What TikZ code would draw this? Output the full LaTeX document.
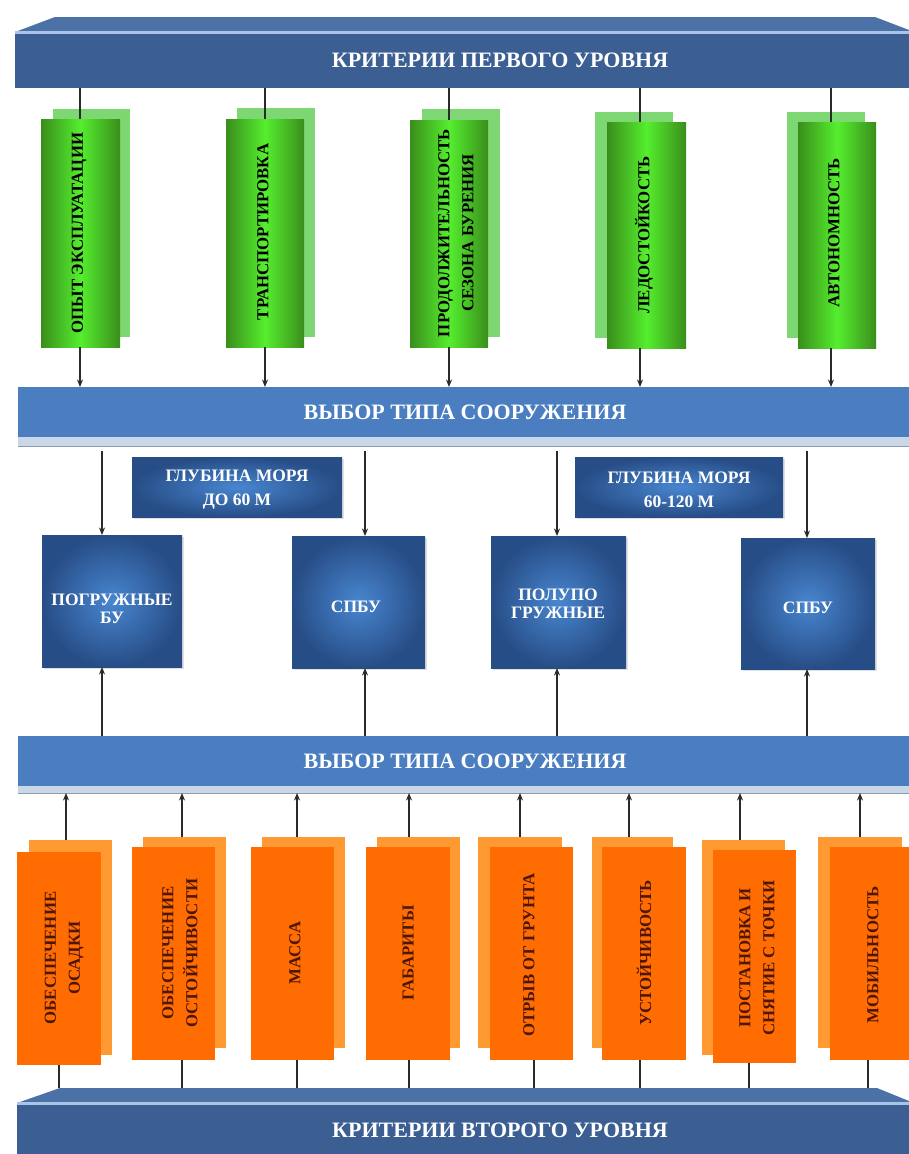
\documentclass[tikz,border=0pt]{standalone}
\usepackage{fontspec}
\setmainfont{Liberation Serif}
\usetikzlibrary{arrows.meta,fit,shadows}
\definecolor{barface}{HTML}{3B5E93}
\definecolor{barbevel}{HTML}{4C71A7}
\definecolor{barline}{HTML}{A8C4E6}
\definecolor{midbar}{HTML}{4A7EC0}
\definecolor{midstrip}{HTML}{CAD7E6}
\definecolor{midline}{HTML}{8E9BAA}
\definecolor{gdark}{HTML}{3A8E1C}
\definecolor{gbright}{HTML}{55EE2E}
\definecolor{gbackc}{HTML}{7DD874}
\definecolor{ofrontc}{HTML}{FF6C02}
\definecolor{obackc}{HTML}{FF9A32}
\definecolor{otextc}{HTML}{4E1606}
\definecolor{bdark}{HTML}{274D86}
\definecolor{blight}{HTML}{4886D0}
\definecolor{arrc}{HTML}{2A2A2A}
\begin{document}
\begin{tikzpicture}[x=1pt,y=-1pt,
  box/.style={inner sep=0pt, outer sep=0pt, draw=none},
  gback/.style={box, fill=gbackc},
  gfront/.style={box, left color=gdark, right color=gdark, middle color=gbright},
  oback/.style={box, fill=obackc},
  ofront/.style={box, fill=ofrontc},
  bbox/.style={box, inner color=blight, outer color=bdark,
    drop shadow={shadow xshift=2pt, shadow yshift=-2pt, fill=black!35, opacity=0.35}},
  vtext/.style={rotate=90, align=center, inner sep=0pt, font=\bfseries\fontsize{16.8}{24}\selectfont},
  gtext/.style={vtext, text=black},
  otext/.style={vtext, text=otextc},
  btext/.style={align=center, text=white, inner sep=0pt, font=\bfseries\fontsize{17.5}{18.5}\selectfont},
  dtext/.style={align=center, text=white, inner sep=0pt, font=\bfseries\fontsize{17.5}{24}\selectfont},
  bartext/.style={text=white, inner sep=0pt, font=\bfseries\fontsize{22}{24}\selectfont},
  bar/.style={box, fill=midbar},
  strip/.style={box, fill=midstrip},
  conn/.style={draw=arrc, line width=1.1pt},
  arrow/.style={conn, -{Stealth[length=7.5pt,width=6pt]}}
]
\useasboundingbox (0,0) rectangle (909,1154);
\fill[white] (0,0) rectangle (909,1154);

% ---------- top bar ----------
\fill[barbevel] (15,32) -- (55,17) -- (875,17) -- (909,30) -- (909,32) -- cycle;
\node[box, fill=barface, fit={(15,32) (909,88)}] (top) {};
\fill[barline] (15,31) rectangle (909,33.5);
\node[bartext] (toptxt) at (500,60) {КРИТЕРИИ ПЕРВОГО УРОВНЯ};

% ---------- first middle bar ----------
\node[bar, fit={(18,387) (909,437)}] (bar1) {};
\node[bartext] (bar1txt) at (465,412) {ВЫБОР ТИПА СООРУЖЕНИЯ};
\node[strip, fit={(18,437) (909,446)}] (strip1) {};
\draw[midline, line width=0.8pt] (strip1.south west) -- (strip1.south east);

% ---------- second middle bar ----------
\node[bar, fit={(18,736) (909,786)}] (bar2) {};
\node[bartext] (bar2txt) at (465,761) {ВЫБОР ТИПА СООРУЖЕНИЯ};
\node[strip, fit={(18,786) (909,793)}] (strip2) {};
\draw[midline, line width=0.8pt] (strip2.south west) -- (strip2.south east);

% ---------- bottom bar ----------
\fill[barbevel] (17,1103) -- (60,1088) -- (877,1088) -- (909,1101) -- (909,1103) -- cycle;
\coordinate (bev) at (0,1088);
\node[box, fill=barface, fit={(17,1103) (909,1154)}] (bot) {};
\fill[barline] (17,1102) rectangle (909,1104.5);
\node[bartext] (bottxt) at (500,1130) {КРИТЕРИИ ВТОРОГО УРОВНЯ};

% ---------- green boxes ----------
\node[gback, fit={(53,109) (130,337)}] (g1b) {};
\node[gfront, fit={(41,119) (120,347)}] (g1) {};
\node[gback, fit={(237,108) (315,337)}] (g2b) {};
\node[gfront, fit={(226,119) (304,347)}] (g2) {};
\node[gback, fit={(422,109) (500,337)}] (g3b) {};
\node[gfront, fit={(410,120) (488,347)}] (g3) {};
\node[gback, fit={(595,112) (673,338)}] (g4b) {};
\node[gfront, fit={(607,122) (686,348)}] (g4) {};
\node[gback, fit={(787,112) (865,338)}] (g5b) {};
\node[gfront, fit={(798,122) (876,348)}] (g5) {};

\node[gtext] (g1t) at (79,233) {ОПЫТ ЭКСПЛУАТАЦИИ};
\node[gtext] (g2t) at (263,232) {ТРАНСПОРТИРОВКА};
\node[gtext] (g3t) at (456,233) {ПРОДОЛЖИТЕЛЬНОСТЬ\\СЕЗОНА БУРЕНИЯ};
\node[gtext] (g4t) at (644,235) {ЛЕДОСТОЙКОСТЬ};
\node[gtext] (g5t) at (834,233) {АВТОНОМНОСТЬ};

\coordinate (gx1) at (80,0);
\coordinate (gx2) at (265,0);
\coordinate (gx3) at (449,0);
\coordinate (gx4) at (640,0);
\coordinate (gx5) at (831,0);
\foreach \i in {1,...,5}{
  \draw[conn] (top.south -| gx\i) -- (g\i.north -| gx\i);
  \draw[arrow] (g\i.south -| gx\i) -- (bar1.north -| gx\i);
}

% ---------- depth boxes ----------
\node[bbox, fit={(132,457) (342,517)}] (d1) {};
\node[dtext] (d1t) at (237,490) {ГЛУБИНА МОРЯ\\ДО 60 М};
\node[bbox, fit={(575,457) (783,517)}] (d2) {};
\node[dtext] (d2t) at (679,490) {ГЛУБИНА МОРЯ\\60-120 М};

% ---------- platform boxes ----------
\node[bbox, fit={(42,535) (182,667)}] (b1) {};
\node[btext] (b1t) at (112,609) {ПОГРУЖНЫЕ\\БУ};
\node[bbox, fit={(292,536) (425,668)}] (b2) {};
\node[btext] (b2t) at (356,607) {СПБУ};
\node[bbox, fit={(491,536) (626,668)}] (b3) {};
\node[btext] (b3t) at (558,604) {ПОЛУПО\\ГРУЖНЫЕ};
\node[bbox, fit={(741,538) (875,669)}] (b4) {};
\node[btext] (b4t) at (808,608) {СПБУ};

\coordinate (bx1) at (102,0);
\coordinate (bx2) at (365,0);
\coordinate (bx3) at (557,0);
\coordinate (bx4) at (807,0);
\foreach \i in {1,...,4}{
  \draw[arrow, shorten <=5pt] (strip1.south -| bx\i) -- (b\i.north -| bx\i);
  \draw[arrow] (bar2.north -| bx\i) -- (b\i.south -| bx\i);
}

% ---------- orange boxes ----------
\node[oback, fit={(29,840) (112,1055)}] (o1b) {};
\node[ofront, fit={(17,852) (101,1065)}] (o1) {};
\node[oback, fit={(143,837) (226,1048)}] (o2b) {};
\node[ofront, fit={(132,847) (215,1060)}] (o2) {};
\node[oback, fit={(262,837) (345,1048)}] (o3b) {};
\node[ofront, fit={(251,847) (334,1060)}] (o3) {};
\node[oback, fit={(377,837) (460,1048)}] (o4b) {};
\node[ofront, fit={(366,847) (450,1060)}] (o4) {};
\node[oback, fit={(478,837) (562,1048)}] (o5b) {};
\node[ofront, fit={(490,847) (573,1060)}] (o5) {};
\node[oback, fit={(592,837) (673,1048)}] (o6b) {};
\node[ofront, fit={(602,847) (686,1060)}] (o6) {};
\node[oback, fit={(702,840) (785,1055)}] (o7b) {};
\node[ofront, fit={(713,850) (796,1063)}] (o7) {};
\node[oback, fit={(818,837) (902,1048)}] (o8b) {};
\node[ofront, fit={(830,847) (909,1060)}] (o8) {};

\node[otext] (o1t) at (64,958) {ОБЕСПЕЧЕНИЕ\\ОСАДКИ};
\node[otext] (o2t) at (180,953) {ОБЕСПЕЧЕНИЕ\\ОСТОЙЧИВОСТИ};
\node[otext] (o3t) at (295,953) {МАССА};
\node[otext] (o4t) at (408,953) {ГАБАРИТЫ};
\node[otext] (o5t) at (529,955) {ОТРЫВ ОТ ГРУНТА};
\node[otext] (o6t) at (644,953) {УСТОЙЧИВОСТЬ};
\node[otext] (o7t) at (757,958) {ПОСТАНОВКА И\\СНЯТИЕ С ТОЧКИ};
\node[otext] (o8t) at (873,955) {МОБИЛЬНОСТЬ};

\coordinate (ou1) at (66,0);  \coordinate (od1) at (59,0);
\coordinate (ou2) at (182,0); \coordinate (od2) at (182,0);
\coordinate (ou3) at (297,0); \coordinate (od3) at (297,0);
\coordinate (ou4) at (409,0); \coordinate (od4) at (409,0);
\coordinate (ou5) at (520,0); \coordinate (od5) at (534,0);
\coordinate (ou6) at (629,0); \coordinate (od6) at (640,0);
\coordinate (ou7) at (740,0); \coordinate (od7) at (749,0);
\coordinate (ou8) at (860,0); \coordinate (od8) at (868,0);
\foreach \i in {1,...,8}{
  \draw[arrow] (o\i b.north -| ou\i) -- (strip2.south -| ou\i);
  \draw[conn] (o\i.south -| od\i) -- (bev -| od\i);
}
\end{tikzpicture}
\end{document}
